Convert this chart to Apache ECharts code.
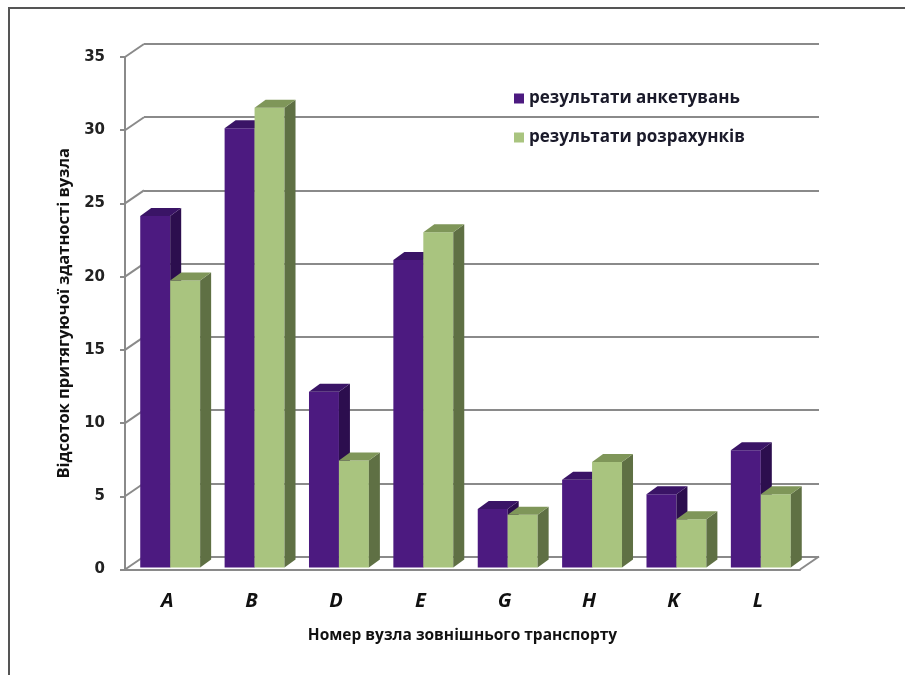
<!DOCTYPE html>
<html>
<head>
<meta charset="utf-8">
<script src="https://cdn.jsdelivr.net/npm/echarts@6/dist/echarts.min.js"></script>
<style>
  html, body { margin: 0; padding: 0; background: #fff; }
  #chart { width: 905px; height: 675px; }
</style>
</head>
<body>
<div id="chart"></div>
<script>
// Nodes of external transport
const categories = ['A', 'B', 'D', 'E', 'G', 'H', 'K', 'L'];
// Survey results, %
const surveyValues = [24, 30, 12, 21, 4, 6, 5, 8];
// Calculation results, %
const calcValues = [19.6, 31.4, 7.3, 22.9, 3.6, 7.2, 3.3, 5];
// Value axis ticks
const yTicks = [0, 5, 10, 15, 20, 25, 30, 35];

const seriesNames = ['результати анкетувань', 'результати розрахунків'];

// Pseudo-3D geometry (pixels)
const WALL_DX = 19, WALL_DY = -13;   // depth of the floor / back wall
const BAR_FX = 3, BAR_FY = -2;       // bar front face offset into depth
const BAR_DX = 11, BAR_DY = -8;      // bar thickness in depth
const BAR_SHARE = 0.355;             // bar width as a share of the band

const GRID = { left: 125, top: 57, width: 675, height: 512.5 };

const palettes = [
  { front: '#4c1a80', side: '#2c0e4e', top: '#3a1466' },
  { front: '#a9c47f', side: '#5f7044', top: '#7f9659' }
];

function barRenderer(slot) {
  const pal = palettes[slot];
  return function (params, api) {
    const idx = api.value(0);
    const val = api.value(1);
    const topPt = api.coord([idx, val]);
    const basePt = api.coord([idx, 0]);
    const band = api.size([1, 0])[0];
    const w = band * BAR_SHARE;
    const x0 = topPt[0] - w + slot * w + BAR_FX;
    const x1 = x0 + w;
    const yt = topPt[1] + BAR_FY;
    const yb = basePt[1] + BAR_FY;
    return {
      type: 'group',
      children: [
        { type: 'rect', shape: { x: x0, y: yt, width: w, height: yb - yt },
          style: { fill: pal.front } },
        { type: 'polygon', shape: { points: [[x1, yt], [x1 + BAR_DX, yt + BAR_DY], [x1 + BAR_DX, yb + BAR_DY], [x1, yb]] },
          style: { fill: pal.side } },
        { type: 'polygon', shape: { points: [[x0, yt], [x0 + BAR_DX, yt + BAR_DY], [x1 + BAR_DX, yt + BAR_DY], [x1, yt]] },
          style: { fill: pal.top } }
      ]
    };
  };
}

// Diagonal edges linking the front value axis to the back wall, plus the floor's right edge
function wallEdges(params, api) {
  const v = api.value(0);
  const p = api.coord([0, v]);
  const cs = params.coordSys;
  const lineStyle = { stroke: '#8a8a8a', lineWidth: 2 };
  const children = [
    { type: 'line', shape: { x1: cs.x, y1: p[1], x2: cs.x + WALL_DX, y2: p[1] + WALL_DY }, style: lineStyle }
  ];
  if (v === 0) {
    children.push({ type: 'line',
      shape: { x1: cs.x + cs.width, y1: p[1], x2: cs.x + cs.width + WALL_DX, y2: p[1] + WALL_DY },
      style: lineStyle });
  }
  return { type: 'group', children: children };
}

const chart = echarts.init(document.getElementById('chart'), null, { renderer: 'canvas' });

const option = {
  backgroundColor: '#ffffff',
  animation: false,
  graphic: [
    { type: 'rect', shape: { x: 9, y: 8, width: 1000, height: 1000 },
      style: { fill: 'none', stroke: '#555', lineWidth: 2 }, silent: true, z: 0 }
  ],
  legend: {
    orient: 'vertical',
    left: 509,
    top: 85,
    itemWidth: 10,
    itemHeight: 10,
    itemGap: 22,
    icon: 'rect',
    data: seriesNames,
    textStyle: { fontFamily: 'Open Sans', fontWeight: 'bold', fontSize: 17, color: '#1a1a2a', padding: [0, 0, 0, 0] }
  },
  grid: [
    { left: GRID.left, top: GRID.top, width: GRID.width, height: GRID.height },
    { left: GRID.left + WALL_DX, top: GRID.top + WALL_DY, width: GRID.width, height: GRID.height }
  ],
  xAxis: [
    {
      type: 'category', gridIndex: 0, data: categories,
      axisLine: { show: true, lineStyle: { color: '#8a8a8a', width: 2 } },
      axisTick: { show: false },
      axisLabel: { margin: 22, fontFamily: 'Open Sans', fontWeight: 'bold', fontStyle: 'italic', fontSize: 20, color: '#111' },
      name: 'Номер вузла зовнішнього транспорту',
      nameLocation: 'middle',
      nameGap: 58,
      nameTextStyle: { fontFamily: 'Open Sans', fontWeight: 'bold', fontSize: 15.5, color: '#111' }
    },
    {
      type: 'category', gridIndex: 1, data: categories, show: false
    }
  ],
  yAxis: [
    {
      type: 'value', gridIndex: 0, min: 0, max: 35, interval: 5,
      axisLine: { show: true, lineStyle: { color: '#8a8a8a', width: 2 } },
      axisTick: { show: true, length: 5, lineStyle: { color: '#8a8a8a', width: 2 } },
      splitLine: { show: false },
      axisLabel: { margin: 20, fontFamily: 'DejaVu Sans', fontWeight: 'bold', fontSize: 15, color: '#222' },
      name: 'Відсоток притягуючої здатності вузла',
      nameLocation: 'middle',
      nameGap: 47,
      nameTextStyle: { fontFamily: 'Open Sans', fontWeight: 'bold', fontSize: 16.5, color: '#111' }
    },
    {
      type: 'value', gridIndex: 1, min: 0, max: 35, interval: 5,
      axisLine: { show: false }, axisTick: { show: false }, axisLabel: { show: false },
      splitLine: { show: true, lineStyle: { color: '#8a8a8a', width: 2 } }
    }
  ],
  series: [
    {
      name: seriesNames[0], type: 'custom', xAxisIndex: 0, yAxisIndex: 0,
      itemStyle: { color: palettes[0].front },
      renderItem: barRenderer(0),
      encode: { x: 0, y: 1 },
      data: surveyValues.map((v, i) => [i, v]),
      z: 3
    },
    {
      name: seriesNames[1], type: 'custom', xAxisIndex: 0, yAxisIndex: 0,
      itemStyle: { color: palettes[1].front },
      renderItem: barRenderer(1),
      encode: { x: 0, y: 1 },
      data: calcValues.map((v, i) => [i, v]),
      z: 4
    },
    {
      name: 'wall', type: 'custom', xAxisIndex: 0, yAxisIndex: 0,
      renderItem: wallEdges,
      encode: { y: 0 },
      data: yTicks.map(v => [v]),
      silent: true,
      z: 1
    }
  ]
};

chart.setOption(option);
</script>
</body>
</html>
